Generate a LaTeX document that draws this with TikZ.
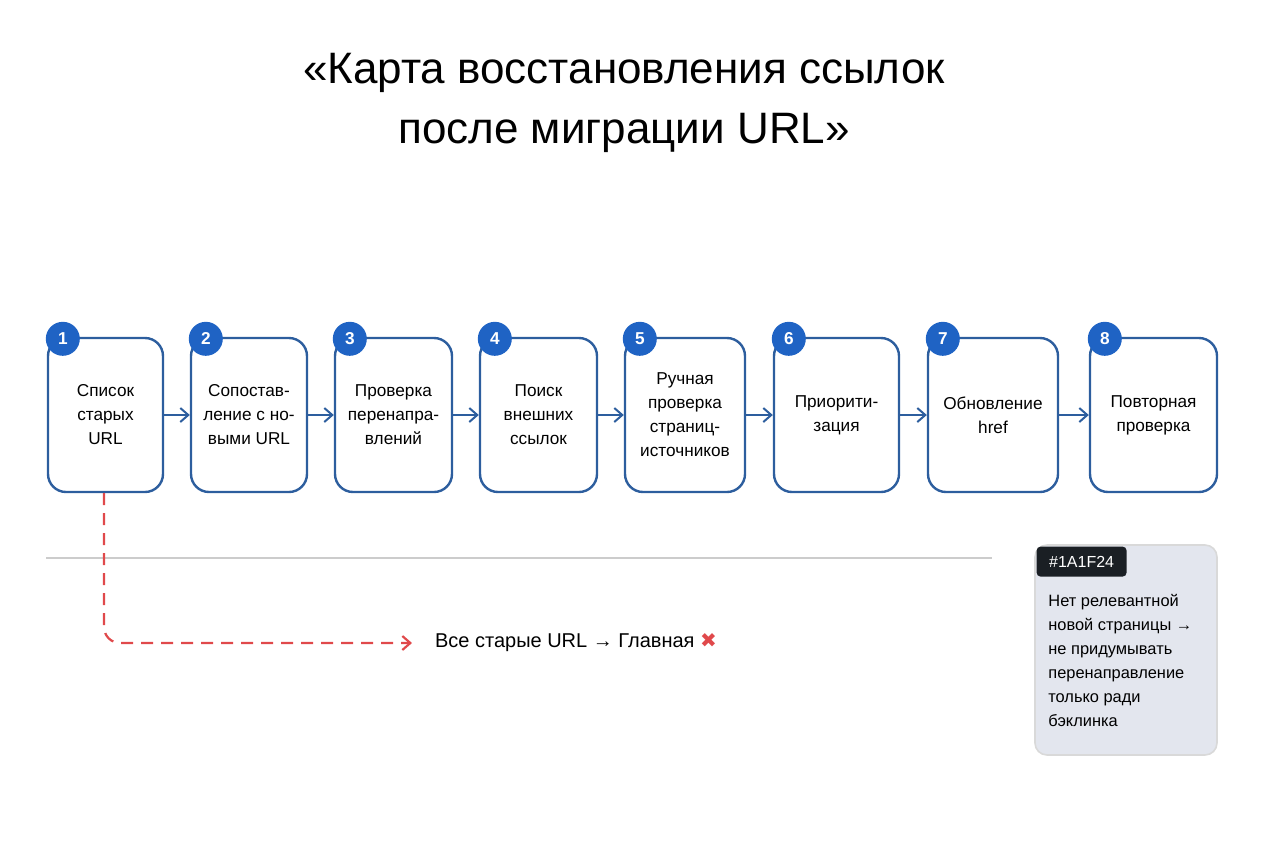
\documentclass[tikz,border=0pt]{standalone}
\usepackage{fontspec}
\setmainfont{Liberation Sans}
\newfontfamily\symfont{DejaVu Sans}
\usetikzlibrary{positioning,arrows.meta}
\definecolor{stepblue}{HTML}{1F63C4}
\definecolor{boxline}{HTML}{2D5E9E}
\definecolor{dashred}{HTML}{E0494B}
\definecolor{notefill}{HTML}{E3E6EE}
\definecolor{notetab}{HTML}{1A1F24}
\begin{document}
\begin{tikzpicture}[x=0.5pt,y=-0.5pt,
  stepbox/.style={draw=boxline, line width=1.2pt, rounded corners=9pt, align=center, font=\fontsize{8.6}{12}\selectfont, inner sep=0pt},
  num/.style={circle, fill=stepblue, text=white, minimum size=17pt, inner sep=0pt, font=\fontsize{8.6}{10}\selectfont\bfseries},
  flow/.style={draw=boxline, line width=1pt, -{Straight Barb[length=4pt,width=7pt]}}]
\useasboundingbox (0,0) rectangle (1264,848);
\node[font=\fontsize{22}{30}\selectfont, align=center] (title) at (624,103) {«Карта восстановления ссылок\\после миграции URL»};
% Steps
\foreach \n/\xa/\xb/\txt in {1/48/163/{Список\\старых\\URL}, 2/191/307/{Сопостав-\\ление с но-\\выми URL}, 3/335/452/{Проверка\\перенапра-\\влений}, 4/480/597/{Поиск\\внешних\\ссылок}, 5/625/745/{Ручная\\проверка\\страниц-\\источников}, 6/774/899/{Приорити-\\зация}, 7/928/1058/{Обновление\\href}, 8/1090/1217/{Повторная\\проверка}}{
  \node[stepbox, minimum width={(\xb-\xa)*0.5pt}, minimum height=77pt] (s\n) at ({(\xa+\xb)/2},415) {\txt};
  \node[num] (n\n) at (s\n.north west) [xshift=8pt,yshift=-1pt] {\n};
}
% Arrows
\foreach \a/\b in {1/2,2/3,3/4,4/5,5/6,6/7,7/8}
  \draw[flow] (s\a) -- (s\b);
% Divider
\coordinate (divL) at (46,558);
\coordinate (divR) at (992,558);
\draw[black!20, line width=1pt] (divL) -- (divR);
% Wrong path
\node[anchor=west, font=\fontsize{10}{12}\selectfont] (wrong) at (428,643) {Все старые URL → Главная {\symfont\textcolor{dashred}{✖}}};
\coordinate (bend) at (104,643);
\draw[dashred, line width=1.1pt, dash pattern=on 6pt off 4pt, rounded corners=8pt, -{Straight Barb[length=4pt,width=7pt]}] (s1.south -| bend) -- (bend) -- ([xshift=-8pt]wrong.west);
% Note
\node[draw=black!15, fill=notefill, rounded corners=6pt, minimum width=91pt, minimum height=105pt, line width=0.8pt] (note) at (1126,650) {};
\node[fill=notetab, text=white, anchor=north west, minimum width=45pt, minimum height=15pt, inner sep=2pt, font=\fontsize{8}{10}\selectfont, rounded corners=2pt] (tab) at ([xshift=1pt,yshift=-1pt]note.north west) {\#1A1F24};
\node[anchor=north west, align=left, font=\fontsize{8.2}{12}\selectfont, inner sep=0pt] (notetext) at (1048,594) {Нет релевантной\\новой страницы →\\не придумывать\\перенаправление\\только ради\\бэклинка};
\end{tikzpicture}
\end{document}
